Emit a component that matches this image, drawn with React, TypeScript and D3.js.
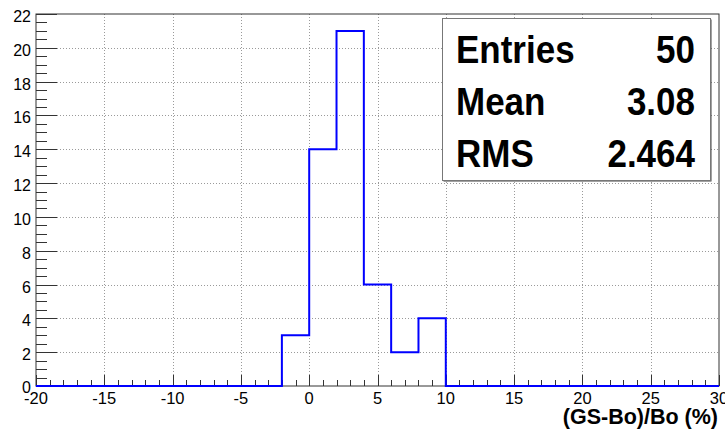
import { useEffect, useRef } from "react";
import * as d3 from "d3";

// contenido por bin, de -20 a 30 con anchura 2
const binEdges = [-20, -18, -16, -14, -12, -10, -8, -6, -4, -2, 0, 2, 4, 6, 8, 10, 12, 14, 16, 18, 20, 22, 24, 26, 28, 30];
const counts = [0, 0, 0, 0, 0, 0, 0, 0, 0, 3, 14, 21, 6, 2, 4, 0, 0, 0, 0, 0, 0, 0, 0, 0, 0];

const xTicks = [-20, -15, -10, -5, 0, 5, 10, 15, 20, 25, 30];
const yTicks = [0, 2, 4, 6, 8, 10, 12, 14, 16, 18, 20, 22];

const statLabels = ["Entries", "Mean", "RMS"];
const statValues = ["50", "3.08", "2.464"];
const xTitle = "(GS-Bo)/Bo (%)";

const W = 725;
const H = 430;
const FONT = "'Liberation Sans', Arial, Helvetica, sans-serif";

export default function App() {
  const svgRef = useRef<SVGSVGElement>(null);

  useEffect(() => {
    if (!svgRef.current) return;
    const svg = d3.select(svgRef.current);
    svg.selectAll("*").remove();

    const x = d3.scaleLinear().domain([-20, 30]).range([36, 719]);
    const y = d3.scaleLinear().domain([0, 22]).range([386, 14]);

    svg.append("rect").attr("width", W).attr("height", H).attr("fill", "#fff");

    // rejilla punteada
    const grid = svg.append("g").attr("stroke", "#9a9a9a").attr("stroke-width", 1).attr("stroke-dasharray", "1,2");
    grid
      .selectAll("line.gx")
      .data(xTicks.slice(1, -1))
      .enter()
      .append("line")
      .attr("x1", (d) => Math.round(x(d)) + 0.5)
      .attr("x2", (d) => Math.round(x(d)) + 0.5)
      .attr("y1", y(22))
      .attr("y2", y(0));
    grid
      .selectAll("line.gy")
      .data(yTicks.slice(1, -1))
      .enter()
      .append("line")
      .attr("x1", x(-20))
      .attr("x2", x(30))
      .attr("y1", (d) => Math.round(y(d)) + 0.5)
      .attr("y2", (d) => Math.round(y(d)) + 0.5);

    // marco
    svg
      .append("rect")
      .attr("x", x(-20))
      .attr("y", y(22))
      .attr("width", x(30) - x(-20))
      .attr("height", y(0) - y(22))
      .attr("fill", "none")
      .attr("stroke", "#333")
      .attr("stroke-width", 1);

    // ticks del eje y: mayores cada 2, menores cada 0.5
    const yMinor = d3.range(0, 22.01, 0.5);
    svg
      .append("g")
      .selectAll("line")
      .data(yMinor)
      .enter()
      .append("line")
      .attr("x1", x(-20))
      .attr("x2", (d) => x(-20) + (d % 2 === 0 ? 21 : 11))
      .attr("y1", (d) => Math.round(y(d)) + 0.5)
      .attr("y2", (d) => Math.round(y(d)) + 0.5)
      .attr("stroke", "#333");

    // ticks del eje x: mayores cada 5, menores cada 1
    const xMinor = d3.range(-20, 30.01, 1);
    svg
      .append("g")
      .selectAll("line")
      .data(xMinor)
      .enter()
      .append("line")
      .attr("x1", (d) => Math.round(x(d)) + 0.5)
      .attr("x2", (d) => Math.round(x(d)) + 0.5)
      .attr("y1", y(0))
      .attr("y2", (d) => y(0) - (d % 5 === 0 ? 11 : 6))
      .attr("stroke", "#333");

    svg
      .append("g")
      .selectAll("text")
      .data(yTicks)
      .enter()
      .append("text")
      .attr("x", 31)
      .attr("y", (d) => y(d) + (d === 0 ? 6.5 : 8))
      .attr("text-anchor", "end")
      .attr("font-family", FONT)
      .attr("font-size", 16)
      .text((d) => String(d));

    svg
      .append("g")
      .selectAll("text")
      .data(xTicks)
      .enter()
      .append("text")
      .attr("x", (d) => x(d))
      .attr("y", 404)
      .attr("text-anchor", "middle")
      .attr("font-family", FONT)
      .attr("font-size", 16.5)
      .text((d) => String(d));

    svg
      .append("text")
      .attr("x", 718)
      .attr("y", 424)
      .attr("text-anchor", "end")
      .attr("font-family", FONT)
      .attr("font-weight", "bold")
      .attr("font-size", 21.5)
      .text(xTitle);

    // histograma como escalera
    const puntos: [number, number][] = counts.map((c, i) => [binEdges[i], c]);
    puntos.push([binEdges[binEdges.length - 1], counts[counts.length - 1]]);
    const escalera = d3
      .line<[number, number]>()
      .x((d) => x(d[0]))
      .y((d) => y(d[1]))
      .curve(d3.curveStepAfter);
    svg
      .append("path")
      .datum(puntos)
      .attr("d", escalera)
      .attr("fill", "none")
      .attr("stroke", "#0000ff")
      .attr("stroke-width", 2);

    // caja de estadísticas
    const caja = { x: 442, y: 18, w: 268, h: 162 };
    svg
      .append("rect")
      .attr("x", caja.x + 1.5)
      .attr("y", caja.y + 1.5)
      .attr("width", caja.w)
      .attr("height", caja.h)
      .attr("fill", "#444");
    svg
      .append("rect")
      .attr("x", caja.x + 0.5)
      .attr("y", caja.y + 0.5)
      .attr("width", caja.w)
      .attr("height", caja.h)
      .attr("fill", "#fff")
      .attr("stroke", "#777");

    // el texto de ROOT sale algo más alto que ancho
    const filas = [62.7, 115, 166.7];
    statLabels.forEach((lab, i) => {
      svg
        .append("text")
        .attr("transform", `translate(456,${filas[i]}) scale(1,1.1)`)
        .attr("font-family", FONT)
        .attr("font-weight", "bold")
        .attr("font-size", 35)
        .text(lab);
      svg
        .append("text")
        .attr("transform", `translate(695,${filas[i]}) scale(1,1.1)`)
        .attr("text-anchor", "end")
        .attr("font-family", FONT)
        .attr("font-weight", "bold")
        .attr("font-size", 35)
        .text(statValues[i]);
    });
  }, []);

  return (
    <svg
      ref={svgRef}
      width={W}
      height={H}
      viewBox={`0 0 ${W} ${H}`}
      style={{ position: "absolute", left: 0, top: 0, display: "block" }}
    />
  );
}
